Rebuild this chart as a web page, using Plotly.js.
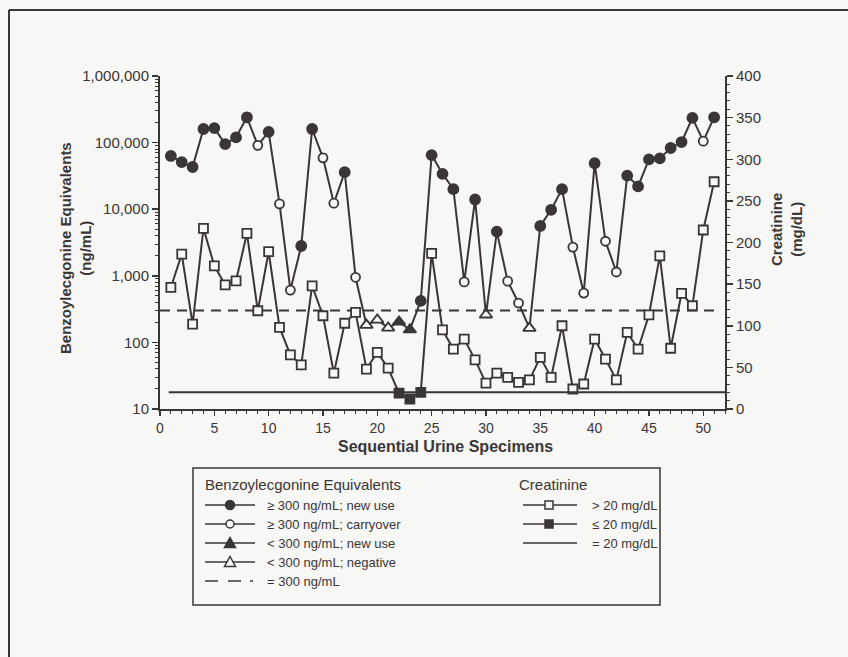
<!DOCTYPE html>
<html>
<head>
<meta charset="utf-8">
<script src="https://cdn.plot.ly/plotly-3.0.1.min.js"></script>
<style>html,body{margin:0;padding:0;background:#f7f7f5;}#chart{width:848px;height:657px;}</style>
</head>
<body>
<div id="chart"></div>
<script>
// ---- data ----
const specimens = [1,2,3,4,5,6,7,8,9,10,11,12,13,14,15,16,17,18,19,20,21,22,23,24,25,26,27,28,29,30,31,32,33,34,35,36,37,38,39,40,41,42,43,44,45,46,47,48,49,50,51];
const beValues = [63000,51000,43000,160000,165000,95000,120000,240000,91000,145000,
  12000,610,2800,160000,59000,12300,36000,950,182,218,
  165,203,155,420,65000,34000,20000,810,14000,260,
  4600,830,390,164,5600,9800,20000,2700,550,49000,
  3300,1140,32000,22000,56000,58000,83000,102000,235000,105000,240000];
// N = >=300 new use, C = >=300 carryover, T = <300 new use, V = <300 negative
const beClass = ["N","N","N","N","N","N","N","N","C","N",
  "C","C","N","N","C","C","N","C","V","V",
  "V","T","T","N","N","N","N","C","N","V",
  "N","C","C","V","N","N","N","C","C","N",
  "C","C","N","N","N","N","N","N","N","C","N"];
const creatinine = [146,186,102,217,172,149,154,211,118,189,
  98,65,53,148,112,43,103,116,48,68,
  49,19,12,20,187,95,72,84,59,31,
  43,38,32,35,62,38,100,24,30,84,
  60,35,92,72,113,184,73,139,124,215,273];
const cutoffBE = 300;      // ng/mL
const cutoffCreat = 20;    // mg/dL
const refLineX = [0, 51];
const creatLineX = [0.8, 52];
const yTickVals = [10, 100, 1000, 10000, 100000, 1000000];
const yTickText = ['10', '100', '1,000', '10,000', '100,000', '1,000,000'];
const beLegendLabels = ['\u2265 300 ng/mL; new use', '\u2265 300 ng/mL; carryover', '< 300 ng/mL; new use', '< 300 ng/mL; negative', '= 300 ng/mL'];
const crLegendLabels = ['> 20 mg/dL', '\u2264 20 mg/dL', '= 20 mg/dL'];

const ink = '#3b3636';
const bg = '#f7f7f5';
const font = 'Liberation Sans, Arial, sans-serif';

// plot area in pixels (for decoration placement only)
const PL = 160, PR = 725, PT = 76, PB = 409;
const px = v => (v - PL) / (PR - PL);
const py = v => (PB - v) / (PB - PT);

function pick(vals, cond) { return vals.map((v, i) => cond(i) ? v : null); }

const traces = [];
traces.push({x: specimens, y: creatinine, yaxis: 'y2', mode: 'lines', line: {color: ink, width: 2}, hoverinfo: 'skip'});
traces.push({x: specimens, y: beValues, mode: 'lines', line: {color: ink, width: 2}, hoverinfo: 'skip'});

const beDefs = [
  {c: 'N', sym: 'circle', fill: ink, size: 10},
  {c: 'C', sym: 'circle', fill: bg, size: 9},
  {c: 'T', sym: 'triangle-up', fill: ink, size: 11},
  {c: 'V', sym: 'triangle-up', fill: bg, size: 11}
];
beDefs.forEach(d => {
  traces.push({
    x: specimens, y: pick(beValues, i => beClass[i] === d.c), mode: 'markers',
    marker: {symbol: d.sym, size: d.size, color: d.fill, line: {color: ink, width: 1.8}}
  });
});
traces.push({x: refLineX, y: [cutoffBE, cutoffBE], mode: 'lines', line: {color: ink, width: 2, dash: '10px,7px'}});
traces.push({x: specimens, y: pick(creatinine, i => creatinine[i] > cutoffCreat), yaxis: 'y2', mode: 'markers',
  marker: {symbol: 'square', size: 9, color: bg, line: {color: ink, width: 1.8}}});
traces.push({x: specimens, y: pick(creatinine, i => creatinine[i] <= cutoffCreat), yaxis: 'y2', mode: 'markers',
  marker: {symbol: 'square', size: 9, color: ink, line: {color: ink, width: 1.8}}});
traces.push({x: creatLineX, y: [cutoffCreat, cutoffCreat], yaxis: 'y2', mode: 'lines', line: {color: ink, width: 2}});

// ---- hand-drawn legend (decoration) ----
const shapes = [];
const annotations = [];
function pline(x0, x1, y, w) {
  shapes.push({type: 'line', xref: 'paper', yref: 'paper', x0: px(x0), x1: px(x1), y0: py(y), y1: py(y), line: {color: ink, width: w || 1.5}});
}
function pcircle(cx, cy, r, fill) {
  shapes.push({type: 'circle', xref: 'paper', yref: 'paper', x0: px(cx - r), x1: px(cx + r), y0: py(cy + r), y1: py(cy - r),
    fillcolor: fill, line: {color: ink, width: 1.5}});
}
function prect(cx, cy, r, fill) {
  shapes.push({type: 'rect', xref: 'paper', yref: 'paper', x0: px(cx - r), x1: px(cx + r), y0: py(cy + r), y1: py(cy - r),
    fillcolor: fill, line: {color: ink, width: 1.5}});
}
function ptri(cx, cy, r, fill) {
  const p = `M ${px(cx - r)} ${py(cy + r * 0.8)} L ${px(cx + r)} ${py(cy + r * 0.8)} L ${px(cx)} ${py(cy - r)} Z`;
  shapes.push({type: 'path', xref: 'paper', yref: 'paper', path: p, fillcolor: fill, line: {color: ink, width: 1.5}});
}
function ptext(x, y, t, size, anchor) {
  annotations.push({xref: 'paper', yref: 'paper', x: px(x), y: py(y), xanchor: anchor || 'left', yanchor: 'middle',
    showarrow: false, text: t, font: {size: size}});
}
// box
shapes.push({type: 'rect', xref: 'paper', yref: 'paper', x0: px(193), x1: px(660), y0: py(605), y1: py(468),
  line: {color: ink, width: 1.5}, fillcolor: 'rgba(0,0,0,0)'});
ptext(203, 484, 'Benzoylecgonine Equivalents', 15);
ptext(553, 484, 'Creatinine', 15, 'center');
const beRows = [505, 524, 543, 562, 581];
const beMarkers = [
  () => pcircle(230, beRows[0], 4.5, ink),
  () => pcircle(230, beRows[1], 4, bg),
  () => ptri(230, beRows[2], 5.5, ink),
  () => ptri(230, beRows[3], 5.5, bg)
];
for (let k = 0; k < 4; k++) { pline(205, 255, beRows[k]); beMarkers[k](); }
pline(205, 218, beRows[4]); pline(228, 241, beRows[4]); pline(250, 253, beRows[4]);
beLegendLabels.forEach((t, k) => ptext(265, beRows[k], t, 13));
const crRows = [505, 524, 543];
pline(523, 577, crRows[0]); prect(549, crRows[0], 4, bg);
pline(523, 577, crRows[1]); prect(549, crRows[1], 4, ink);
pline(523, 577, crRows[2]);
crLegendLabels.forEach((t, k) => ptext(590, crRows[k], t, 13));

// axis titles
annotations.push({xref: 'paper', yref: 'paper', x: px(75), y: py(248), xanchor: 'center', yanchor: 'middle', textangle: -90, showarrow: false,
  text: '<b>Benzoylecgonine Equivalents</b><br><b>(ng/mL)</b>', font: {size: 15}});
annotations.push({xref: 'paper', yref: 'paper', x: px(786), y: py(230), xanchor: 'center', yanchor: 'middle', textangle: -90, showarrow: false,
  text: '<b>Creatinine</b><br><b>(mg/dL)</b>', font: {size: 15}});
annotations.push({xref: 'paper', yref: 'paper', x: px(445), y: py(446), xanchor: 'center', yanchor: 'middle', showarrow: false,
  text: '<b>Sequential Urine Specimens</b>', font: {size: 16}});

// page frame (top and left edges)
shapes.push({type: 'line', xref: 'paper', yref: 'paper', x0: px(9), x1: px(860), y0: py(10), y1: py(10), line: {color: ink, width: 2}});
shapes.push({type: 'line', xref: 'paper', yref: 'paper', x0: px(9), x1: px(9), y0: py(10), y1: py(670), line: {color: ink, width: 2}});

const layout = {
  width: 848, height: 657,
  paper_bgcolor: bg, plot_bgcolor: bg,
  margin: {l: 160, r: 123, t: 76, b: 248},
  font: {family: font, color: ink, size: 13},
  showlegend: false,
  xaxis: {
    range: [0, 52], dtick: 5, tick0: 0, ticks: 'outside', ticklen: 5, tickwidth: 1.5, tickcolor: ink,
    showline: true, linecolor: ink, linewidth: 2, showgrid: false, zeroline: false,
    minor: {dtick: 1, ticks: 'outside', ticklen: 3, tickcolor: ink, tickwidth: 1},
    tickfont: {size: 14}
  },
  yaxis: {
    type: 'log', range: [1, 6], tickvals: yTickVals, ticktext: yTickText,
    ticks: 'outside', ticklen: 6, tickwidth: 1.5, tickcolor: ink,
    minor: {dtick: 'D1', ticks: 'outside', ticklen: 3, tickcolor: ink, tickwidth: 1},
    showline: true, linecolor: ink, linewidth: 2, showgrid: false, zeroline: false,
    tickfont: {size: 15}
  },
  yaxis2: {
    overlaying: 'y', side: 'right', range: [0, 400], dtick: 50,
    ticks: 'outside', ticklen: 6, tickwidth: 1.5, tickcolor: ink,
    minor: {dtick: 10, ticks: 'outside', ticklen: 3, tickcolor: ink, tickwidth: 1},
    showline: true, linecolor: ink, linewidth: 2, showgrid: false, zeroline: false,
    tickfont: {size: 15}
  },
  annotations: annotations,
  shapes: shapes
};

Plotly.newPlot('chart', traces, layout, {displayModeBar: false, staticPlot: true});
</script>
</body>
</html>
